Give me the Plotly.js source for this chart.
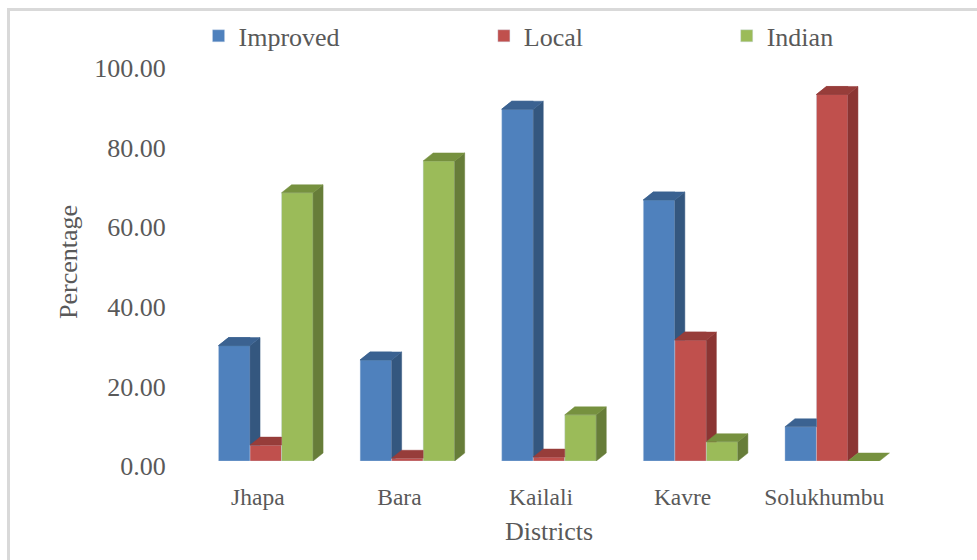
<!DOCTYPE html>
<html>
<head>
<meta charset="utf-8">
<script src="https://cdn.plot.ly/plotly-3.0.1.min.js"></script>
<style>
  html, body { margin: 0; padding: 0; background: #ffffff; }
  #wrap { position: relative; width: 977px; height: 560px; overflow: hidden; }
  #chart { position: absolute; left: 0; top: 0; width: 977px; height: 560px; }
  #frame { position: absolute; left: 7px; top: 8px; right: -10px; bottom: -10px;
           border-left: 3px solid #d9d9d9; border-top: 3px solid #d9d9d9; pointer-events: none; }
</style>
</head>
<body>
<div id="wrap">
  <div id="chart"></div>
  <div id="frame"></div>
</div>
<script>
// ---- data ----
const districts = ["Jhapa", "Bara", "Kailali", "Kavre", "Solukhumbu"];
const seriesNames = ["Improved", "Local", "Indian"];
const improved = [29.0, 25.4, 88.4, 65.6, 8.6];
const local    = [4.0, 0.7, 1.0, 30.4, 92.1];
const indian   = [67.4, 75.4, 11.6, 4.85, 0.0];
const yTickVals = [0, 20, 40, 60, 80, 100];

// ---- styles ----
const frontColors = ["#4F81BD", "#C0504D", "#9BBB59"];
const sideColors  = ["#34577F", "#8B3533", "#677D39"];
const topColors   = ["#3B6291", "#973D3A", "#76913F"];
const textColor = "#595959";
const FONT = "Liberation Serif";

const values = [improved, local, indian];
const W = 0.2225;           // bar width (x units)
const GROUP = 3 * W;
const DX = 0.0706;          // depth offset in x units (~10px)
const DY = 2.0;             // depth offset in y units (~8px)
const xIdx = districts.map((d, i) => i);

// Sutherland–Hodgman clip against half-plane f(p) >= 0
function clip(poly, f) {
  const out = [];
  for (let i = 0; i < poly.length; i++) {
    const a = poly[i], b = poly[(i + 1) % poly.length];
    const fa = f(a), fb = f(b);
    if (fa >= 0) out.push(a);
    if ((fa >= 0) !== (fb >= 0)) {
      const t = fa / (fa - fb);
      out.push([a[0] + t * (b[0] - a[0]), a[1] + t * (b[1] - a[1])]);
    }
  }
  return out;
}
function area(poly) {
  let s = 0;
  for (let i = 0; i < poly.length; i++) {
    const a = poly[i], b = poly[(i + 1) % poly.length];
    s += a[0] * b[1] - b[0] * a[1];
  }
  return Math.abs(s / 2);
}

const traces = [];
const legendIds = ["legend", "legend2", "legend3"];
// front faces as real bars
values.forEach((vals, k) => {
  traces.push({
    type: "bar",
    name: seriesNames[k],
    x: xIdx,
    y: vals,
    width: W,
    offset: -GROUP / 2 + k * W,
    marker: { color: frontColors[k], line: { width: 0.6, color: "rgba(200,215,235,0.6)" } },
    legend: legendIds[k],
    hoverinfo: "skip"
  });
});

// side and top faces (depth), computed from the same values
values.forEach((vals, k) => {
  vals.forEach((v, i) => {
    const xl = i - GROUP / 2 + k * W;
    const xr = xl + W;
    const side = [[xr, 0], [xr + DX, DY], [xr + DX, v + DY], [xr, v]];
    const top = [[xl, v], [xl + DX, v + DY], [xr + DX, v + DY], [xr, v]];
    const faces = [[side, sideColors[k]], [top, topColors[k]]];
    faces.forEach(([poly, col]) => {
      let pieces;
      if (k < values.length - 1) {
        const vNext = values[k + 1][i];
        pieces = [clip(poly, p => xr - p[0]), clip(poly, p => p[1] - vNext)];
      } else {
        pieces = [poly];
      }
      pieces.forEach(pc => {
        if (pc.length < 3 || area(pc) < 1e-6) return;
        traces.push({
          type: "scatter",
          mode: "lines",
          x: pc.map(p => p[0]).concat([pc[0][0]]),
          y: pc.map(p => p[1]).concat([pc[0][1]]),
          fill: "toself",
          fillcolor: col,
          line: { color: col, width: 0.5 },
          showlegend: false,
          hoverinfo: "skip"
        });
      });
    });
  });
});

const legendBase = {
  orientation: "h",
  yanchor: "middle",
  xanchor: "left",
  y: 1.068,
  bgcolor: "rgba(0,0,0,0)",
  font: { family: FONT, size: 26, color: textColor },
  itemwidth: 30,
  tracegroupgap: 0
};

const layout = {
  width: 977,
  height: 560,
  margin: { l: 195, r: 74, t: 63, b: 99, pad: 0 },
  paper_bgcolor: "#ffffff",
  plot_bgcolor: "#ffffff",
  font: { family: FONT, color: textColor },
  barmode: "overlay",
  showlegend: true,
  legend:  Object.assign({}, legendBase, { x: 0.005 }),
  legend2: Object.assign({}, legendBase, { x: 0.408 }),
  legend3: Object.assign({}, legendBase, { x: 0.751 }),
  xaxis: {
    range: [-0.5, 4.5],
    tickvals: xIdx,
    ticktext: districts,
    showgrid: false, zeroline: false, showline: false,
    ticks: "outside", ticklen: 15, tickcolor: "rgba(0,0,0,0)",
    ticklabelshift: -8,
    tickfont: { family: FONT, size: 23.5, color: textColor },
    title: { text: "Districts", font: { family: FONT, size: 26, color: textColor }, standoff: 12 },
    fixedrange: true
  },
  yaxis: {
    range: [0, 100],
    tickvals: yTickVals,
    tickformat: ".2f",
    showgrid: false, zeroline: false, showline: false,
    ticks: "outside", ticklen: 23, tickcolor: "rgba(0,0,0,0)",
    ticklabelshift: 5,
    tickfont: { family: FONT, size: 26, color: textColor },
    title: { text: "Percentage", font: { family: FONT, size: 26, color: textColor }, standoff: 9 },
    fixedrange: true
  }
};

Plotly.newPlot("chart", traces, layout, { displayModeBar: false, staticPlot: true });
</script>
</body>
</html>
